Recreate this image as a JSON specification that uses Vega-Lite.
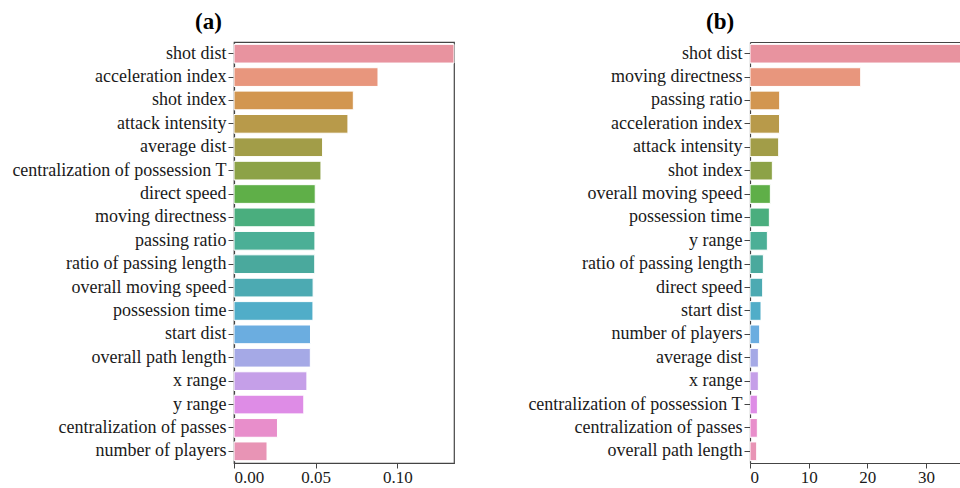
{
  "$schema": "https://vega.github.io/schema/vega-lite/v6.json",
  "background": "white",
  "padding": {"left": 10, "top": 10, "right": 0, "bottom": 0},
  "spacing": 71,
  "config": {
    "font": "Liberation Serif",
    "view": {"stroke": "#444", "strokeWidth": 1.2},
    "axis": {
      "labelFont": "Liberation Serif",
      "labelFontSize": 18,
      "labelColor": "#1a1a1a",
      "labelLimit": 0,
      "domainColor": "#444",
      "domainWidth": 1.2,
      "tickColor": "#444",
      "tickWidth": 1,
      "tickSize": 6,
      "labelPadding": 2,
      "grid": false,
      "title": null
    },
    "axisX": {"labelFontSize": 17, "tickSize": 5, "labelPadding": 1},
    "title": {"font": "Liberation Serif", "fontSize": 23, "fontWeight": "bold", "color": "#000", "frame": "group"}
  },
  "resolve": {"scale": {"color": "independent"}},
  "datasets": {
    "a": [
      {"feature": "shot dist", "importance": 0.1346},
      {"feature": "acceleration index", "importance": 0.0881},
      {"feature": "shot index", "importance": 0.0730},
      {"feature": "attack intensity", "importance": 0.0697},
      {"feature": "average dist", "importance": 0.0542},
      {"feature": "centralization of possession T", "importance": 0.0532},
      {"feature": "direct speed", "importance": 0.0497},
      {"feature": "moving directness", "importance": 0.0496},
      {"feature": "passing ratio", "importance": 0.0495},
      {"feature": "ratio of passing length", "importance": 0.0494},
      {"feature": "overall moving speed", "importance": 0.0484},
      {"feature": "possession time", "importance": 0.0483},
      {"feature": "start dist", "importance": 0.0468},
      {"feature": "overall path length", "importance": 0.0467},
      {"feature": "x range", "importance": 0.0446},
      {"feature": "y range", "importance": 0.0427},
      {"feature": "centralization of passes", "importance": 0.0266},
      {"feature": "number of players", "importance": 0.0202}
    ],
    "b": [
      {"feature": "shot dist", "importance": 37.6},
      {"feature": "moving directness", "importance": 18.87},
      {"feature": "passing ratio", "importance": 5.06},
      {"feature": "acceleration index", "importance": 5.04},
      {"feature": "attack intensity", "importance": 4.89},
      {"feature": "shot index", "importance": 3.81},
      {"feature": "overall moving speed", "importance": 3.47},
      {"feature": "possession time", "importance": 3.30},
      {"feature": "y range", "importance": 2.96},
      {"feature": "ratio of passing length", "importance": 2.28},
      {"feature": "direct speed", "importance": 2.16},
      {"feature": "start dist", "importance": 1.88},
      {"feature": "number of players", "importance": 1.65},
      {"feature": "average dist", "importance": 1.43},
      {"feature": "x range", "importance": 1.42},
      {"feature": "centralization of possession T", "importance": 1.26},
      {"feature": "centralization of passes", "importance": 1.25},
      {"feature": "overall path length", "importance": 1.14}
    ]
  },
  "hconcat": [
    {
      "title": {"text": "(a)", "anchor": "start", "dx": -39, "offset": 8},
      "width": 220,
      "height": 421,
      "data": {"name": "a"},
      "mark": {"type": "bar", "stroke": "white", "strokeWidth": 1},
      "encoding": {
        "y": {
          "field": "feature", "type": "nominal",
          "sort": ["shot dist", "acceleration index", "shot index", "attack intensity", "average dist", "centralization of possession T", "direct speed", "moving directness", "passing ratio", "ratio of passing length", "overall moving speed", "possession time", "start dist", "overall path length", "x range", "y range", "centralization of passes", "number of players"],
          "scale": {"paddingInner": 0.2, "paddingOuter": 0.1},
          "axis": {"title": null}
        },
        "x": {
          "field": "importance", "type": "quantitative",
          "scale": {"domain": [0, 0.1346], "nice": false, "zero": true},
          "axis": {"values": [0, 0.05, 0.1], "format": ".2f", "title": null}
        },
        "color": {
          "field": "feature", "type": "nominal", "legend": null,
          "scale": {
            "domain": ["shot dist", "acceleration index", "shot index", "attack intensity", "average dist", "centralization of possession T", "direct speed", "moving directness", "passing ratio", "ratio of passing length", "overall moving speed", "possession time", "start dist", "overall path length", "x range", "y range", "centralization of passes", "number of players"],
            "range": ["#E8939F", "#E8967D", "#D29650", "#B89A4A", "#A29D48", "#8CA247", "#5FAF48", "#4AAE7E", "#4BAF96", "#4AA99D", "#4CAAB2", "#50ADC8", "#6BADE0", "#A5A9E6", "#C59FE8", "#DE8CE6", "#E88ECB", "#E894B5"]
          }
        }
      }
    },
    {
      "title": {"text": "(b)", "anchor": "start", "dx": -44, "offset": 8},
      "width": 210,
      "height": 421,
      "data": {"name": "b"},
      "view": {"stroke": null},
      "layer": [
        {
          "mark": {"type": "bar", "stroke": "white", "strokeWidth": 1, "clip": true},
          "encoding": {
            "y": {
              "field": "feature", "type": "nominal",
              "sort": ["shot dist", "moving directness", "passing ratio", "acceleration index", "attack intensity", "shot index", "overall moving speed", "possession time", "y range", "ratio of passing length", "direct speed", "start dist", "number of players", "average dist", "x range", "centralization of possession T", "centralization of passes", "overall path length"],
              "scale": {"paddingInner": 0.2, "paddingOuter": 0.1},
              "axis": {"title": null}
            },
            "x": {
              "field": "importance", "type": "quantitative",
              "scale": {"domain": [0, 35.8], "nice": false, "zero": true},
              "axis": {"values": [0, 10, 20, 30], "title": null}
            },
            "color": {
              "field": "feature", "type": "nominal", "legend": null,
              "scale": {
                "domain": ["shot dist", "moving directness", "passing ratio", "acceleration index", "attack intensity", "shot index", "overall moving speed", "possession time", "y range", "ratio of passing length", "direct speed", "start dist", "number of players", "average dist", "x range", "centralization of possession T", "centralization of passes", "overall path length"],
                "range": ["#E8939F", "#E8967D", "#D29650", "#B89A4A", "#A29D48", "#8CA247", "#5FAF48", "#4AAE7E", "#4BAF96", "#4AA99D", "#4CAAB2", "#50ADC8", "#6BADE0", "#A5A9E6", "#C59FE8", "#DE8CE6", "#E88ECB", "#E894B5"]
              }
            }
          }
        },
        {
          "mark": {"type": "bar", "opacity": 0},
          "encoding": {
            "y": {
              "field": "feature", "type": "nominal",
              "sort": ["shot dist", "moving directness", "passing ratio", "acceleration index", "attack intensity", "shot index", "overall moving speed", "possession time", "y range", "ratio of passing length", "direct speed", "start dist", "number of players", "average dist", "x range", "centralization of possession T", "centralization of passes", "overall path length"]
            },
            "x": {
              "field": "importance", "type": "quantitative",
              "axis": {"orient": "top", "labels": false, "ticks": false, "domain": true, "title": null}
            }
          }
        }
      ],
      "resolve": {"axis": {"x": "independent"}}
    }
  ]
}
